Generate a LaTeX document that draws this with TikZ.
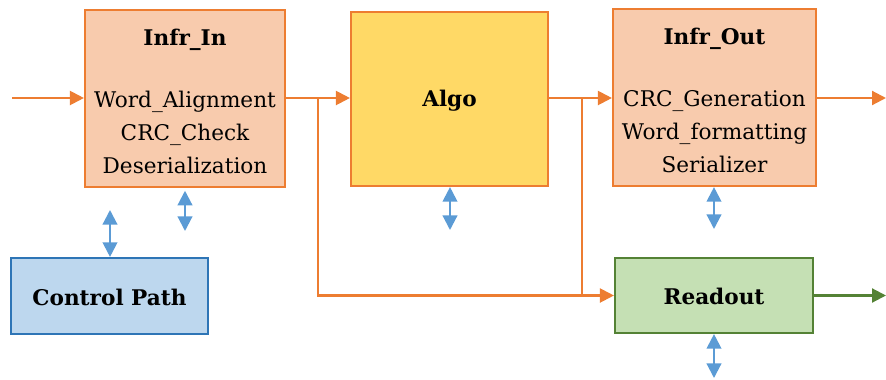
\documentclass[tikz,border=0pt]{standalone}
\usepackage{fontspec}
\setmainfont{DejaVu Serif}
\usetikzlibrary{arrows.meta}
\definecolor{infrfill}{HTML}{F8CBAD}
\definecolor{infrline}{HTML}{ED7D31}
\definecolor{algofill}{HTML}{FFD966}
\definecolor{ctrlfill}{HTML}{BDD7EE}
\definecolor{ctrlline}{HTML}{2E75B6}
\definecolor{rdfill}{HTML}{C5E0B4}
\definecolor{rdline}{HTML}{548235}
\definecolor{busblue}{HTML}{5B9BD5}

\begin{document}
\begin{tikzpicture}[x=0.75pt, y=-0.75pt,
  blk/.style={draw=infrline, line width=1.6pt, align=center,
    inner sep=0pt, font=\fontsize{16.2}{24.6}\selectfont},
  hdr/.style={font=\fontsize{16.2}{24.6}\selectfont\bfseries},
  oarr/.style={-{Triangle[length=10.5pt, width=10.5pt]}, infrline, line width=1.6pt},
  garr/.style={-{Triangle[length=10.5pt, width=10.5pt]}, rdline, line width=1.6pt},
  bus/.style={{Triangle[length=11pt, width=11pt]}-{Triangle[length=11pt, width=11pt]},
    busblue, line width=1.6pt}
]
  \useasboundingbox (0,0) rectangle (886,379);

  % Blocks
  \node[blk, fill=infrfill, minimum width=150pt, minimum height=132.75pt]
    (infrin) at (185,98.5)
    {\textbf{\rule{0pt}{16.5pt}Infr\_In}\\[22pt]Word\_Alignment\\CRC\_Check\\Deserialization};
  \node[blk, hdr, fill=algofill, minimum width=147.75pt, minimum height=130.5pt]
    (algo) at (449.5,99) {\rule{0pt}{15pt}Algo};
  \node[blk, fill=infrfill, minimum width=152.25pt, minimum height=132.75pt]
    (infrout) at (714.5,97.5)
    {\textbf{\rule{0pt}{16.5pt}Infr\_Out}\\[22pt]CRC\_Generation\\Word\_formatting\\Serializer};
  \node[blk, hdr, draw=rdline, fill=rdfill, minimum width=148.5pt, minimum height=56.25pt]
    (readout) at (714,295.5) {\rule{0pt}{14pt}Readout};
  \node[blk, hdr, draw=ctrlline, fill=ctrlfill, minimum width=147.75pt, minimum height=57pt]
    (ctrl) at (109.5,296) {\rule{0pt}{14pt}Control Path};

  % Free ends and branch points
  \coordinate (din) at (12,98);
  \coordinate (dout) at (886,98);
  \coordinate (rout) at (886,296);
  \coordinate (tapin) at (318,98);
  \coordinate (tapalgo) at (582,98);

  % Data path
  \draw[oarr] (din) -- (din -| infrin.west);
  \draw[oarr] (infrin.east |- din) -- (algo.west |- din);
  \draw[oarr] (algo.east |- din) -- (infrout.west |- din);
  \draw[oarr] (infrout.east |- din) -- (dout);
  \draw[oarr] (tapin) |- (readout.west);
  \draw[infrline, line width=1.6pt] (tapalgo) -- (tapalgo |- readout.west);
  \draw[garr] (readout.east) -- (readout.east -| rout);

  % Register buses
  \coordinate (bctrl) at (110,210);
  \coordinate (binfrin) at (185,231);
  \coordinate (balgo) at (450,230);
  \coordinate (binfrout) at (714,229);
  \coordinate (breadout) at (714,378);
  \draw[bus] (bctrl) -- (ctrl.north -| bctrl);
  \draw[bus] ([yshift=-2pt]infrin.south -| binfrin) -- (binfrin);
  \draw[bus] (algo.south -| balgo) -- (balgo);
  \draw[bus] (infrout.south -| binfrout) -- (binfrout);
  \draw[bus] (readout.south -| breadout) -- (breadout);
\end{tikzpicture}
\end{document}
